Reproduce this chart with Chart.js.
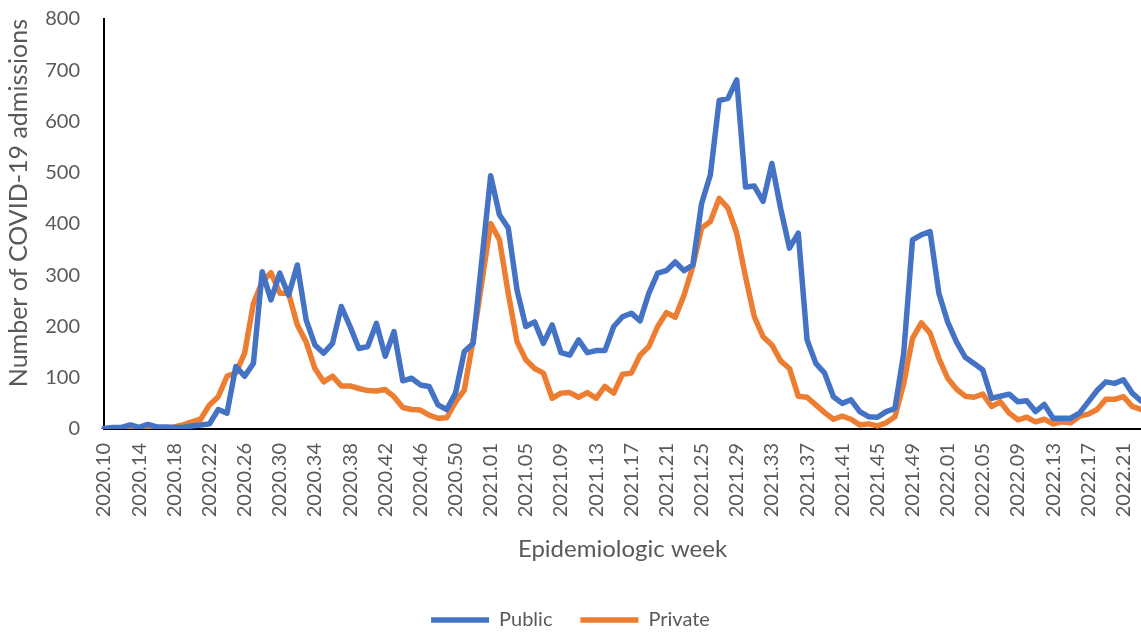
<!DOCTYPE html>
<html>
<head>
<meta charset="utf-8">
<script src="https://cdn.jsdelivr.net/npm/chart.js@4"></script>
<style>
 html, body { margin: 0; padding: 0; background: #fff; }
 #wrap { width: 1141px; height: 635px; position: relative; }
</style>
</head>
<body>
<div id="wrap"><canvas id="admissionsChart"></canvas></div>
<script>
// epidemiologic weeks on the x axis: [year, first week, last week]
const weekSpans = [[2020, 10, 53], [2021, 1, 52], [2022, 1, 23]];
const weeks = [];
weekSpans.forEach(function (s) {
 for (let w = s[1]; w <= s[2]; w++) {
  weeks.push(s[0] + '.' + String(w).padStart(2, '0'));
 }
});

// weekly COVID-19 admissions
const publicAdmissions = [
 1, 3, 3, 8, 3, 9, 4, 4, 3, 3,
 6, 8, 10, 38, 31, 122, 103, 128, 307, 252,
 304, 261, 320, 213, 164, 148, 167, 239, 200, 157,
 161, 206, 142, 190, 94, 99, 86, 83, 47, 38,
 70, 151, 167, 330, 494, 418, 392, 271, 200, 209,
 167, 203, 149, 144, 174, 149, 153, 153, 200, 219,
 226, 211, 265, 304, 309, 326, 309, 320, 440, 496,
 641, 645, 681, 472, 474, 444, 518, 430, 353, 382,
 174, 128, 109, 63, 50, 57, 34, 24, 23, 34,
 40, 148, 369, 379, 385, 265, 209, 170, 140, 128,
 115, 60, 64, 68, 53, 55, 34, 48, 21, 21,
 21, 31, 53, 75, 92, 89, 96, 70, 55
];
const privateAdmissions = [
 0, 1, 1, 2, 1, 3, 1, 1, 4, 8,
 14, 19, 47, 63, 103, 109, 148, 245, 287, 305,
 265, 265, 203, 170, 118, 92, 103, 84, 84, 79,
 75, 74, 77, 63, 42, 38, 37, 27, 21, 22,
 53, 76, 173, 287, 401, 369, 265, 170, 135, 118,
 109, 60, 70, 71, 62, 71, 60, 83, 70, 107,
 109, 144, 161, 200, 227, 218, 261, 317, 392, 405,
 450, 431, 382, 297, 219, 180, 164, 133, 118, 64,
 62, 47, 32, 19, 25, 19, 8, 10, 6, 12,
 24, 89, 177, 207, 187, 138, 99, 78, 64, 62,
 68, 44, 53, 31, 18, 23, 14, 19, 10, 14,
 12, 25, 29, 38, 58, 58, 63, 44, 38
];

// y axis range
const yMin = 0;
const yMax = 800;
const yStep = 100;

Chart.defaults.font.family = 'Lato, "Open Sans", sans-serif';
Chart.defaults.color = '#595959';

const ctx = document.getElementById('admissionsChart').getContext('2d');

window.admissionsChart = new Chart(ctx, {
 type: 'line',
 data: {
  labels: weeks,
  datasets: [
   {
    label: 'Public',
    data: publicAdmissions,
    borderColor: '#4472C4',
    backgroundColor: '#4472C4',
    borderWidth: 5.5,
    pointBorderWidth: 5.5, // legend line takes its width from the point style
   },
   {
    label: 'Private',
    data: privateAdmissions,
    borderColor: '#ED7D31',
    backgroundColor: '#ED7D31',
    borderWidth: 5.5,
    pointBorderWidth: 5.5,
   },
  ],
 },
 options: {
  responsive: true,
  maintainAspectRatio: false,
  animation: false,
  layout: { padding: { top: 19, right: 0, bottom: -5, left: 0 } },
  elements: {
   point: { radius: 0, hoverRadius: 0 },
   line: { tension: 0, borderJoinStyle: 'round', borderCapStyle: 'round' }
  },
  scales: {
   x: {
    grid: { display: false, drawTicks: false },
    border: { display: true, color: '#000', width: 2 },
    ticks: {
     autoSkip: false,
     maxRotation: 90,
     minRotation: 90,
     padding: 14,
     font: { size: 20 },
     // only every 4th week gets a label
     callback: function (value, index) {
      return index % 4 === 0 ? this.getLabelForValue(value) : '';
     }
    },
    title: {
     display: true,
     text: 'Epidemiologic week',
     font: { size: 24 },
     padding: { top: 0, bottom: 18 }
    },
    afterFit: function (scale) {
     scale.height = 153;
     scale.paddingLeft = 0;
     scale.paddingRight = 0;
    }
   },
   y: {
    min: yMin,
    max: yMax,
    grid: { display: false, drawTicks: false },
    border: { display: true, color: '#000', width: 2 },
    ticks: { stepSize: yStep, padding: 24, font: { size: 20 } },
    title: {
     display: true,
     text: 'Number of COVID-19 admissions',
     align: 'end',
     font: { size: 25 },
     padding: { top: 4, bottom: 0 }
    },
    afterFit: function (scale) {
     scale.width = 104;
     scale.paddingTop = 0;
     scale.paddingBottom = 0;
    }
   }
  },
  plugins: {
   legend: {
    position: 'bottom',
    labels: {
     usePointStyle: true,
     pointStyle: 'line',
     pointStyleWidth: 58,
     padding: 28,
     font: { size: 20 }
    }
   },
   tooltip: { enabled: false }
  }
 }
});
</script>
</body>
</html>
